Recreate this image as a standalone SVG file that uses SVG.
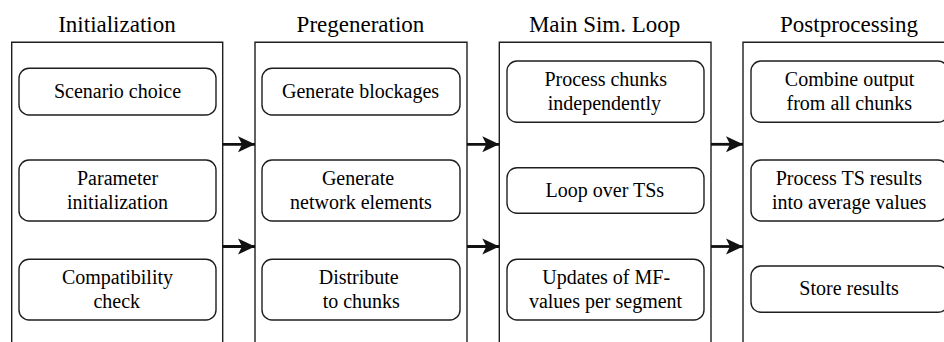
<svg xmlns="http://www.w3.org/2000/svg" width="944" height="342" viewBox="0 0 944 342">
<defs>
<marker id="ah" markerUnits="userSpaceOnUse" markerWidth="18" markerHeight="18" refX="17" refY="8" orient="auto" viewBox="0 0 18 16">
<path d="M0,0 L17,8 L0,16 L4,8 Z" fill="#111"/>
</marker>
</defs>
<rect width="944" height="342" fill="#fff"/>

<g id="panels" fill="none" stroke="#1e1e1e" stroke-width="1.4">
<path d="M11.7,350 V42.3 H222.7 V350"/>
<path d="M255,350 V42.3 H467 V350"/>
<path d="M499.3,350 V42.3 H711 V350"/>
<path d="M743,350 V42.3 H955 V350"/>
</g>

<g id="titles">
<text x="58.2" y="32" font-family="Liberation Serif" font-size="23">Initialization</text>
<text x="296.6" y="32" font-family="Liberation Serif" font-size="23">Pregeneration</text>
<text x="528.9" y="32" font-family="Liberation Serif" font-size="23">Main Sim. Loop</text>
<text x="780" y="32" font-family="Liberation Serif" font-size="23">Postprocessing</text>
</g>

<g id="nodes">
<g id="scenario-choice">
<rect x="19" y="68.3" width="197" height="46.7" rx="10" fill="#fff" stroke="#1e1e1e" stroke-width="1.4"/>
<text x="53.9" y="97.5" font-family="Liberation Serif" font-size="20">Scenario choice</text>
</g>
<g id="parameter-init">
<rect x="19" y="160" width="197" height="61" rx="10" fill="#fff" stroke="#1e1e1e" stroke-width="1.4"/>
<text x="77" y="184.8" font-family="Liberation Serif" font-size="20">Parameter</text>
<text x="67" y="208.8" font-family="Liberation Serif" font-size="20">initialization</text>
</g>
<g id="compatibility-check">
<rect x="19" y="259.3" width="197" height="60.7" rx="10" fill="#fff" stroke="#1e1e1e" stroke-width="1.4"/>
<text x="61.9" y="283.5" font-family="Liberation Serif" font-size="20">Compatibility</text>
<text x="93.4" y="307.5" font-family="Liberation Serif" font-size="20">check</text>
</g>

<g id="generate-blockages">
<rect x="262" y="68.3" width="198" height="46.7" rx="10" fill="#fff" stroke="#1e1e1e" stroke-width="1.4"/>
<text x="282" y="97.5" font-family="Liberation Serif" font-size="20">Generate blockages</text>
</g>
<g id="generate-network">
<rect x="262" y="160" width="198" height="61" rx="10" fill="#fff" stroke="#1e1e1e" stroke-width="1.4"/>
<text x="321.9" y="184.8" font-family="Liberation Serif" font-size="20">Generate</text>
<text x="290.1" y="208.8" font-family="Liberation Serif" font-size="20">network elements</text>
</g>
<g id="distribute-chunks">
<rect x="262" y="259.3" width="198" height="60.7" rx="10" fill="#fff" stroke="#1e1e1e" stroke-width="1.4"/>
<text x="318.7" y="283.5" font-family="Liberation Serif" font-size="20">Distribute</text>
<text x="322.7" y="307.5" font-family="Liberation Serif" font-size="20">to chunks</text>
</g>

<g id="process-chunks">
<rect x="507" y="61" width="197" height="61.3" rx="10" fill="#fff" stroke="#1e1e1e" stroke-width="1.4"/>
<text x="544.4" y="85.5" font-family="Liberation Serif" font-size="20">Process chunks</text>
<text x="547.8" y="109.5" font-family="Liberation Serif" font-size="20">independently</text>
</g>
<g id="loop-over-ts">
<rect x="507" y="167.7" width="197" height="45.6" rx="10" fill="#fff" stroke="#1e1e1e" stroke-width="1.4"/>
<text x="545.6" y="196.5" font-family="Liberation Serif" font-size="20">Loop over TSs</text>
</g>
<g id="updates-mf">
<rect x="507" y="259.3" width="197" height="60.7" rx="10" fill="#fff" stroke="#1e1e1e" stroke-width="1.4"/>
<text x="542.3" y="283.5" font-family="Liberation Serif" font-size="20">Updates of MF-</text>
<text x="528.9" y="307.5" font-family="Liberation Serif" font-size="20">values per segment</text>
</g>

<g id="combine-output">
<rect x="751" y="61" width="197" height="61.3" rx="10" fill="#fff" stroke="#1e1e1e" stroke-width="1.4"/>
<text x="784.8" y="85.5" font-family="Liberation Serif" font-size="20">Combine output</text>
<text x="786.5" y="109.5" font-family="Liberation Serif" font-size="20">from all chunks</text>
</g>
<g id="process-ts-results">
<rect x="751" y="160" width="197" height="61" rx="10" fill="#fff" stroke="#1e1e1e" stroke-width="1.4"/>
<text x="775.7" y="184.8" font-family="Liberation Serif" font-size="20">Process TS results</text>
<text x="772" y="208.8" font-family="Liberation Serif" font-size="20">into average values</text>
</g>
<g id="store-results">
<rect x="751" y="266" width="197" height="46.3" rx="10" fill="#fff" stroke="#1e1e1e" stroke-width="1.4"/>
<text x="799.3" y="295" font-family="Liberation Serif" font-size="20">Store results</text>
</g>
</g>

<g id="connectors" stroke="#111" stroke-width="2.8" fill="none" marker-end="url(#ah)">
<line x1="222.7" y1="144.3" x2="255" y2="144.3"/>
<line x1="222.7" y1="246.5" x2="255" y2="246.5"/>
<line x1="467" y1="144.3" x2="499.3" y2="144.3"/>
<line x1="467" y1="246.5" x2="499.3" y2="246.5"/>
<line x1="711" y1="144.3" x2="743" y2="144.3"/>
<line x1="711" y1="246.5" x2="743" y2="246.5"/>
</g>
</svg>
